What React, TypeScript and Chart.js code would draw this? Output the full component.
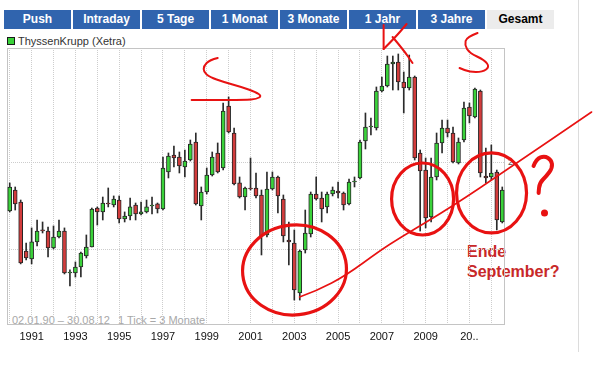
import React, { useEffect, useRef } from "react";
import { Chart, registerables } from "chart.js";
Chart.register(...registerables);

// ---- data ----
const years = [1990,1991,1992,1993,1994,1995,1996,1997,1998,1999,2000,2001,2002,2003,2004,2005,2006,2007,2008,2009,2010,2011,2012];
const quarterNames = ["Q1","Q2","Q3","Q4"];
const categories = years.flatMap((y) => quarterNames.map((q) => `${y} ${q}`)).slice(0, 91);

const opens = [13.64,16.13,14.66,9.92,9.31,10.66,11.73,11.63,10.16,11.09,
  11.63,8.33,8.33,8.73,9.53,10.24,13.97,13.54,14.54,14.31,
  14.89,12.80,13.11,14.31,13.32,13.54,14.20,14.43,13.86,18.62,
  21.32,20.98,19.37,20.48,23.64,14.20,15.87,18.18,21.66,19.22,
  31.50,25.40,17.06,15.25,16.39,16.39,15.50,11.27,16.26,17.89,
  15.01,10.83,10.57,7.10,10.00,11.36,15.62,15.13,14.09,15.62,
  16.00,15.75,14.43,17.19,17.75,23.83,26.64,26.43,35.50,36.94,
  44.01,44.72,38.13,36.36,39.68,21.66,18.91,13.01,17.89,23.46,
  26.43,25.40,20.00,24.02,31.25,28.85,35.50,18.03,17.89,18.62,
  12.50];
const highs = [17.06,16.52,14.89,10.57,11.92,12.70,12.50,12.01,12.11,12.70,
  11.92,8.53,9.09,9.84,11.27,13.97,14.09,15.25,16.39,15.38,
  15.38,13.54,15.13,14.54,14.66,14.89,15.25,14.54,20.98,21.66,
  22.90,21.83,22.18,24.02,25.40,16.52,19.22,21.83,23.46,32.26,
  33.84,26.43,17.89,16.52,20.81,18.47,16.13,18.62,18.62,18.03,
  15.50,12.50,11.73,10.00,13.75,15.87,17.89,15.87,15.87,16.52,
  17.19,15.87,17.61,17.89,24.02,29.79,28.63,36.65,39.68,46.91,
  46.91,47.67,41.30,47.28,40.00,22.18,20.81,20.81,25.40,28.17,
  28.17,26.64,24.41,32.51,32.26,36.36,35.78,22.54,23.09,18.91,
  16.52];
const lows = [13.54,13.75,8.95,9.23,8.95,10.32,11.45,9.46,10.08,11.00,
  8.26,7.51,8.06,8.06,9.38,10.24,12.20,12.70,14.09,14.09,
  12.40,12.50,12.70,12.70,13.22,13.43,13.32,13.43,13.75,17.75,
  19.37,18.47,17.89,20.32,14.31,12.70,15.62,18.03,18.47,18.91,
  25.40,16.78,15.13,13.75,16.13,15.13,9.61,11.09,16.13,13.43,
  10.66,8.87,6.71,6.71,9.76,11.09,14.89,12.50,13.43,15.38,
  15.13,13.75,14.31,16.52,17.61,22.36,25.00,26.01,35.21,36.65,
  35.78,35.78,29.79,35.78,20.48,11.63,11.92,12.50,17.47,21.66,
  24.60,20.00,19.84,23.64,27.51,28.63,17.89,17.06,17.47,11.73,
  12.40];
const closes = [16.52,14.43,9.02,9.38,10.66,11.63,11.63,10.16,11.09,11.63,
  8.33,8.39,8.73,9.76,10.24,13.86,13.54,14.54,14.43,15.01,
  12.80,13.11,14.09,13.32,13.54,14.09,14.31,13.86,19.22,21.15,
  20.81,19.53,20.32,23.27,14.43,15.87,18.18,20.98,18.62,30.27,
  25.60,16.92,15.25,16.39,16.26,15.38,11.18,16.26,17.89,15.38,
  11.18,10.66,7.27,9.92,11.45,15.62,15.01,13.86,15.62,16.13,
  15.75,14.31,17.19,17.33,23.64,26.64,26.86,35.50,36.94,44.01,
  44.72,38.13,36.36,39.68,20.81,18.77,12.90,17.89,23.46,26.43,
  25.40,20.16,23.64,31.00,29.08,36.07,18.47,17.75,18.47,12.70,
  16.13];

const xTickLabels = ["1991","1993","1995","1997","1999","2001","2003","2005","2007","2009","20.."];
const yGridValues = [10, 20];
const tabLabels = ["Push","Intraday","5 Tage","1 Monat","3 Monate","1 Jahr","3 Jahre","Gesamt"];

// hand-drawn annotations, in [year, price]
const strokeS1 = [[1999.50,46.17],[1999.13,45.44],[1998.86,43.32],[1998.86,41.30],[1999.13,39.68],[1999.77,38.13],[2000.59,36.65],[2001.23,35.21],[2001.51,34.11],[2001.28,33.30],[2000.78,33.04],[1998.31,33.04]];
const strokeK1 = [[2007.08,60.05],[2007.08,49.60]];
const strokeK2 = [[2007.08,49.60],[2007.63,54.58],[2008.13,60.53]];
const strokeK3 = [[2007.49,54.58],[2007.99,49.21],[2008.40,44.37]];
const strokeS2 = [[2011.37,56.34],[2010.87,54.58],[2010.78,51.21],[2011.00,48.05],[2011.69,45.44],[2011.92,42.97],[2011.60,41.30],[2011.00,41.30],[2010.55,42.63]];
const trendLine = [[2003.24,6.88],[2004.02,7.21],[2005.39,8.19],[2006.89,9.92],[2007.81,11.00],[2010.18,14.09],[2012.83,19.22],[2016.58,30.03]];
const questionMark = [[2013.93,19.53],[2014.06,20.65],[2014.43,21.15],[2014.75,20.48],[2014.79,19.22],[2014.52,18.03],[2014.20,17.06],[2014.16,15.75]];
const questionDot = [2014.43, 13.43];
const circleCenters = [[2003.01, 8.53], [2008.86, 15.01], [2012.01, 15.75]];

const GREEN = "#3ad23a";
const RED = "#d23c3c";
const MARK = "#e81212";

export default function App() {
  const ref = useRef<HTMLCanvasElement>(null);
  useEffect(() => {
    const canvas = ref.current!;
    const toIdx = (year: number) => (year - 1990) * 4;

    const frame = {
      id: "frame",
      beforeDatasetsDraw(chart: any) {
        const { ctx, chartArea: a } = chart;
        ctx.save();
        ctx.strokeStyle = "#c4c4c4";
        ctx.lineWidth = 1;
        ctx.strokeRect(Math.round(a.left) + 0.5, Math.round(a.top) + 0.5, Math.round(a.right - a.left) - 1, Math.round(a.bottom - a.top) - 1);
        ctx.restore();
      },
    };

    const annot = {
      id: "annot",
      afterDraw(chart: any) {
        const { ctx } = chart;
        const xs = chart.scales.x, ys = chart.scales.y;
        const P = (p: number[]) => [xs.getPixelForValue(toIdx(p[0])), ys.getPixelForValue(p[1])];
        const path = (pts: number[][], w: number) => {
          const q = pts.map(P);
          ctx.beginPath();
          ctx.lineWidth = w;
          ctx.moveTo(q[0][0], q[0][1]);
          for (let i = 1; i < q.length - 1; i++) {
            const mx = (q[i][0] + q[i + 1][0]) / 2, my = (q[i][1] + q[i + 1][1]) / 2;
            ctx.quadraticCurveTo(q[i][0], q[i][1], mx, my);
          }
          ctx.lineTo(q[q.length - 1][0], q[q.length - 1][1]);
          ctx.stroke();
        };
        ctx.save();
        ctx.strokeStyle = MARK;
        ctx.fillStyle = MARK;
        ctx.lineCap = "round";
        ctx.lineJoin = "round";
        path(strokeS1, 2);
        path(strokeK1, 2);
        path(strokeK2, 2);
        path(strokeK3, 2);
        path(strokeS2, 2);
        path(trendLine, 1.6);
        path(questionMark, 4);
        const d = P(questionDot);
        ctx.beginPath();
        ctx.arc(d[0], d[1], 3.5, 0, Math.PI * 2);
        ctx.fill();
        const radii = [[52, 45, -0.1], [31, 36, 0], [35, 40, 0]];
        circleCenters.forEach((c, i) => {
          const p = P(c);
          ctx.beginPath();
          ctx.lineWidth = 3.2;
          ctx.ellipse(p[0], p[1], radii[i][0], radii[i][1], radii[i][2], 0, Math.PI * 2);
          ctx.stroke();
        });
        ctx.restore();
      },
    };

    const chart = new Chart(canvas, {
      type: "bar",
      data: {
        labels: categories,
        datasets: [
          {
            label: "wick",
            data: lows.map((l, i) => [l, highs[i]]),
            backgroundColor: "#2b2b2b",
            borderWidth: 0,
            barThickness: 1,
            grouped: false,
            order: 2,
          } as any,
          {
            label: "ThyssenKrupp (Xetra)",
            data: opens.map((o, i) => [o, closes[i]]),
            backgroundColor: opens.map((o, i) => (closes[i] >= o ? GREEN : RED)),
            borderColor: "#262626",
            borderWidth: 1,
            borderSkipped: false,
            barThickness: 4,
            grouped: false,
            order: 1,
          } as any,
        ],
      },
      options: {
        animation: false,
        responsive: false,
        maintainAspectRatio: false,
        devicePixelRatio: 1,
        layout: { padding: { left: 7, right: 106, top: 48, bottom: 0 } },
        plugins: { legend: { display: false }, tooltip: { enabled: false } },
        scales: {
          x: {
            type: "category",
            offset: true,
            grid: {
              offset: false,
              drawTicks: false,
              color: (c: any) => (c.index % 4 === 0 ? "#cdcdcd" : "rgba(0,0,0,0)"),
            },
            border: { display: false, dash: [1, 1] },
            ticks: {
              autoSkip: false,
              maxRotation: 0,
              minRotation: 0,
              padding: 5,
              color: "#111",
              font: { family: "'Liberation Sans', Arial, sans-serif", size: 11 },
              callback: (_v: any, i: number) =>
                i >= 4 && (i - 4) % 8 === 0 ? xTickLabels[(i - 4) / 8] ?? "" : "",
            },
            afterFit: (s: any) => {
              s.height = 45;
            },
          },
          y: {
            type: "logarithmic",
            min: 5.5,
            max: 50,
            grid: { drawTicks: false, color: "#cdcdcd" },
            border: { display: false, dash: [1, 1] },
            ticks: { display: false },
            afterBuildTicks: (s: any) => {
              s.ticks = yGridValues.map((v) => ({ value: v }));
            },
            afterFit: (s: any) => {
              s.width = 0;
            },
          },
        },
      } as any,
      plugins: [frame, annot],
    });
    return () => chart.destroy();
  }, []);

  const font = "'Liberation Sans', Arial, sans-serif";
  return (
    <div style={{ position: "absolute", left: 0, top: 0, width: 611, height: 370, background: "#fff", overflow: "hidden", fontFamily: font }}>
      {tabLabels.map((t, i) => {
        const last = i === tabLabels.length - 1;
        return (
          <div
            key={t}
            style={{
              position: "absolute",
              left: 4 + i * 69,
              top: 10,
              width: 67,
              height: 19,
              lineHeight: "19px",
              textAlign: "center",
              background: last ? "#ececec" : "#3064ae",
              color: last ? "#000" : "#fff",
              fontWeight: "bold",
              fontSize: 12,
            }}
          >
            {t}
          </div>
        );
      })}
      <div style={{ position: "absolute", left: 7, top: 37, width: 6, height: 6, background: GREEN, border: "1px solid #1a1a1a" }} />
      <div style={{ position: "absolute", left: 18, top: 34, fontSize: 11, lineHeight: "14px", color: "#333" }}>ThyssenKrupp (Xetra)</div>
      <div style={{ position: "absolute", left: 12, top: 313, fontSize: 11, lineHeight: "14px", color: "#a8a8a8", whiteSpace: "pre" }}>02.01.90 – 30.08.12</div>
      <div style={{ position: "absolute", left: 118, top: 313, fontSize: 11, lineHeight: "14px", color: "#a8a8a8", whiteSpace: "pre" }}>1 Tick = 3 Monate</div>
      <div style={{ position: "absolute", left: 508, top: 157, fontSize: 9, lineHeight: "11px", color: "#555" }}>2</div>
      <div style={{ position: "absolute", left: 467, top: 242, fontSize: 16, lineHeight: "20px", color: "#c82828", fontWeight: "bold" }}>
        Ende
        <br />
        September?
      </div>
      <div style={{ position: "absolute", left: 578, top: 0, width: 1, height: 352, background: "#dcdcdc" }} />
      <canvas ref={ref} width={611} height={370} style={{ position: "absolute", left: 0, top: 0, width: 611, height: 370 }} />
    </div>
  );
}
